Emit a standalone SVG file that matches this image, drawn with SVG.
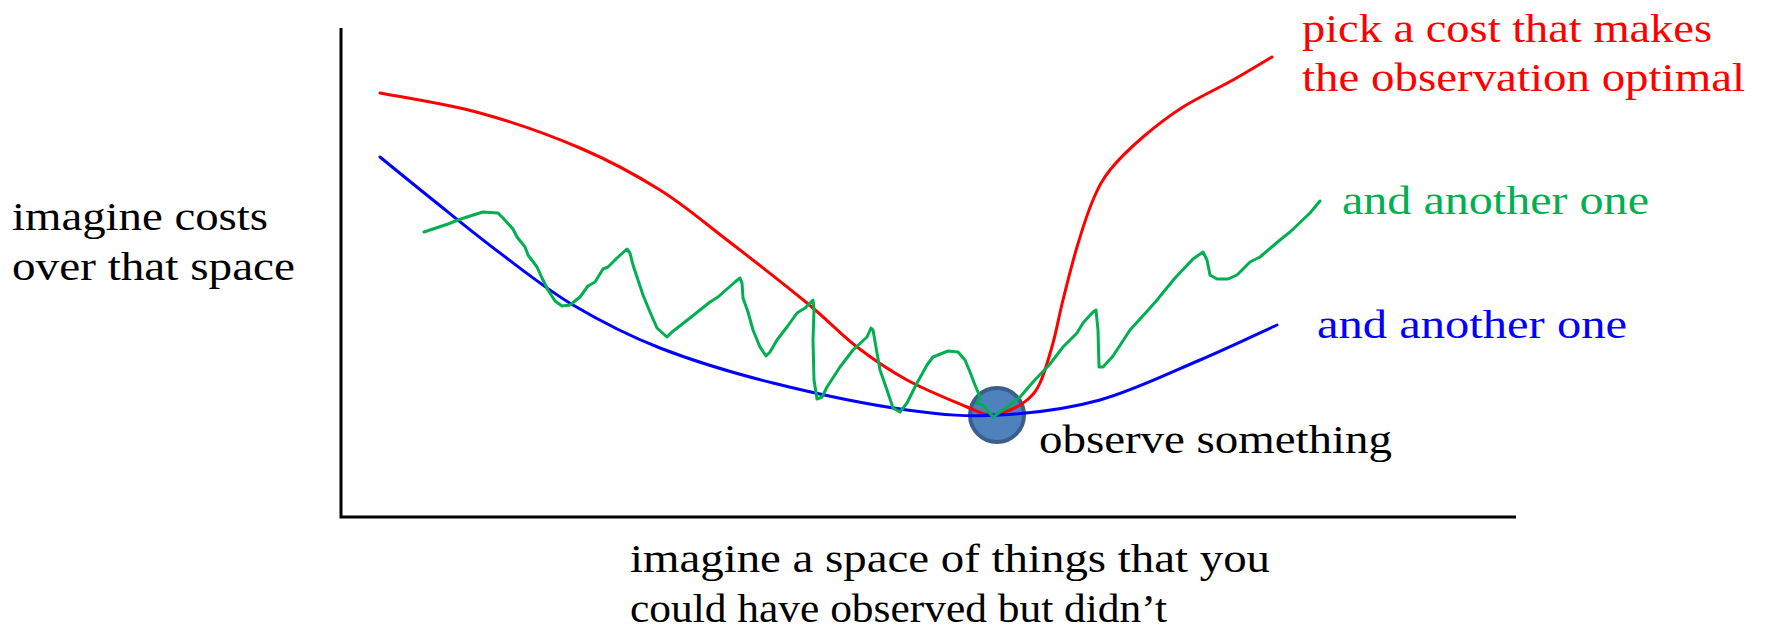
<svg xmlns="http://www.w3.org/2000/svg" width="1765" height="630" viewBox="0 0 1765 630">
<style>
  .t { font-family: "Liberation Serif", "DejaVu Serif", serif; font-size: 40px; }
  .blk { fill: #000000; }
  .red { fill: #ff0000; }
  .grn { fill: #00b050; }
  .blu { fill: #0000ff; }
  .crv { fill: none; stroke-width: 3; stroke-linejoin: round; stroke-linecap: round; }
</style>
<rect width="1765" height="630" fill="#ffffff"/>
<g id="axes">
  <polyline points="341,28 341,517 1516,517" fill="none" stroke="#000000" stroke-width="3"/>
</g>
<g id="observation">
  <circle cx="997" cy="415" r="27" fill="#4f81bd" stroke="#3b5e8c" stroke-width="4"/>
</g>
<g id="connectors">
  <path id="red-cost" class="crv" stroke="#ff0000" d="M380,93 C396.7,96.3 446.7,103.8 480,113 C513.3,122.2 550,135.2 580,148 C610,160.8 635.5,174.7 660,190 C684.5,205.3 702.5,221.2 727,240 C751.5,258.8 785.3,285.2 807,303 C828.7,320.8 840.3,334.2 857,347 C873.7,359.8 888.7,370 907,380 C925.3,390 953.2,401.2 967,407 C980.8,412.8 982.8,414.5 990,415 C997.2,415.5 1003.8,412.5 1010,410 C1016.2,407.5 1022,404.5 1027,400 C1032,395.5 1035.7,392.5 1040,383 C1044.3,373.5 1049.2,356.8 1053,343 C1056.8,329.2 1059,316 1063,300 C1067,284 1072,263.7 1077,247 C1082,230.3 1087.5,212.8 1093,200 C1098.5,187.2 1101.7,180.5 1110,170 C1118.3,159.5 1130.8,147.5 1143,137 C1155.2,126.5 1168,116.5 1183,107 C1198,97.5 1218.2,88.3 1233,80 C1247.8,71.7 1265.5,60.8 1272,57"/>
  <path id="blue-cost" class="crv" stroke="#0000ff" d="M380,157 C388.8,164.2 413,184 433,200 C453,216 476.7,235.5 500,253 C523.3,270.5 546.3,289.2 573,305 C599.7,320.8 626.7,335 660,348 C693.3,361 731.8,372.7 773,383 C814.2,393.3 869.2,404.7 907,410 C944.8,415.3 967.8,416.7 1000,415 C1032.2,413.3 1066.7,409.2 1100,400 C1133.3,390.8 1170.5,372.5 1200,360 C1229.5,347.5 1264.2,330.8 1277,325"/>
  <polyline id="green-cost" class="crv" stroke="#00b050" points="424,232 448,224 458,220 470,216 483,212 498,213 503,218 513,229 517,237 525,247 528,255 537,267 542,278 548,290 555,301 562,306 570,305 580,297 588,286 595,282 603,269 608,267 617,258 627,249 630,253 633,265 637,277 643,295 650,312 657,328 667,337 672,332 690,318 710,302 718,297 735,282 740,278 742,283 743,298 748,312 753,330 760,347 766,356 770,352 777,340 787,327 797,313 805,308 813,300 814,310 813,340 814,380 817,399 822,397 827,387 840,367 853,350 867,337 871,328 873,330 877,353 880,370 887,390 893,408 900,412 907,403 917,383 927,365 933,357 938,355 948,351 958,352 965,360 970,372 975,385 980,397 977,403 983,405 993,417 1007,407 1020,397 1033,382 1050,364 1063,347 1077,333 1083,323 1093,312 1096,310 1098,330 1099,367 1103,367 1113,356 1130,330 1150,308 1157,300 1175,278 1193,259 1203,252 1207,260 1210,275 1217,279 1228,279 1237,275 1250,262 1260,257 1280,240 1290,232 1310,213 1320,201"/>
</g>
<g id="label-red">
  <text class="t red" x="1302" y="42" textLength="410" lengthAdjust="spacingAndGlyphs">pick a cost that makes</text>
  <text class="t red" x="1302" y="91" textLength="443" lengthAdjust="spacingAndGlyphs">the observation optimal</text>
</g>
<g id="label-green">
  <text class="t grn" x="1342" y="214" textLength="307" lengthAdjust="spacingAndGlyphs">and another one</text>
</g>
<g id="label-blue">
  <text class="t blu" x="1317" y="338" textLength="310" lengthAdjust="spacingAndGlyphs">and another one</text>
</g>
<g id="label-observe">
  <text class="t blk" x="1039" y="453" textLength="353" lengthAdjust="spacingAndGlyphs">observe something</text>
</g>
<g id="label-y">
  <text class="t blk" x="12" y="230" textLength="256" lengthAdjust="spacingAndGlyphs">imagine costs</text>
  <text class="t blk" x="12" y="280" textLength="283" lengthAdjust="spacingAndGlyphs">over that space</text>
</g>
<g id="label-x">
  <text class="t blk" x="630" y="572" textLength="640" lengthAdjust="spacingAndGlyphs">imagine a space of things that you</text>
  <text class="t blk" x="630" y="622" textLength="537" lengthAdjust="spacingAndGlyphs">could have observed but didn’t</text>
</g>
</svg>
